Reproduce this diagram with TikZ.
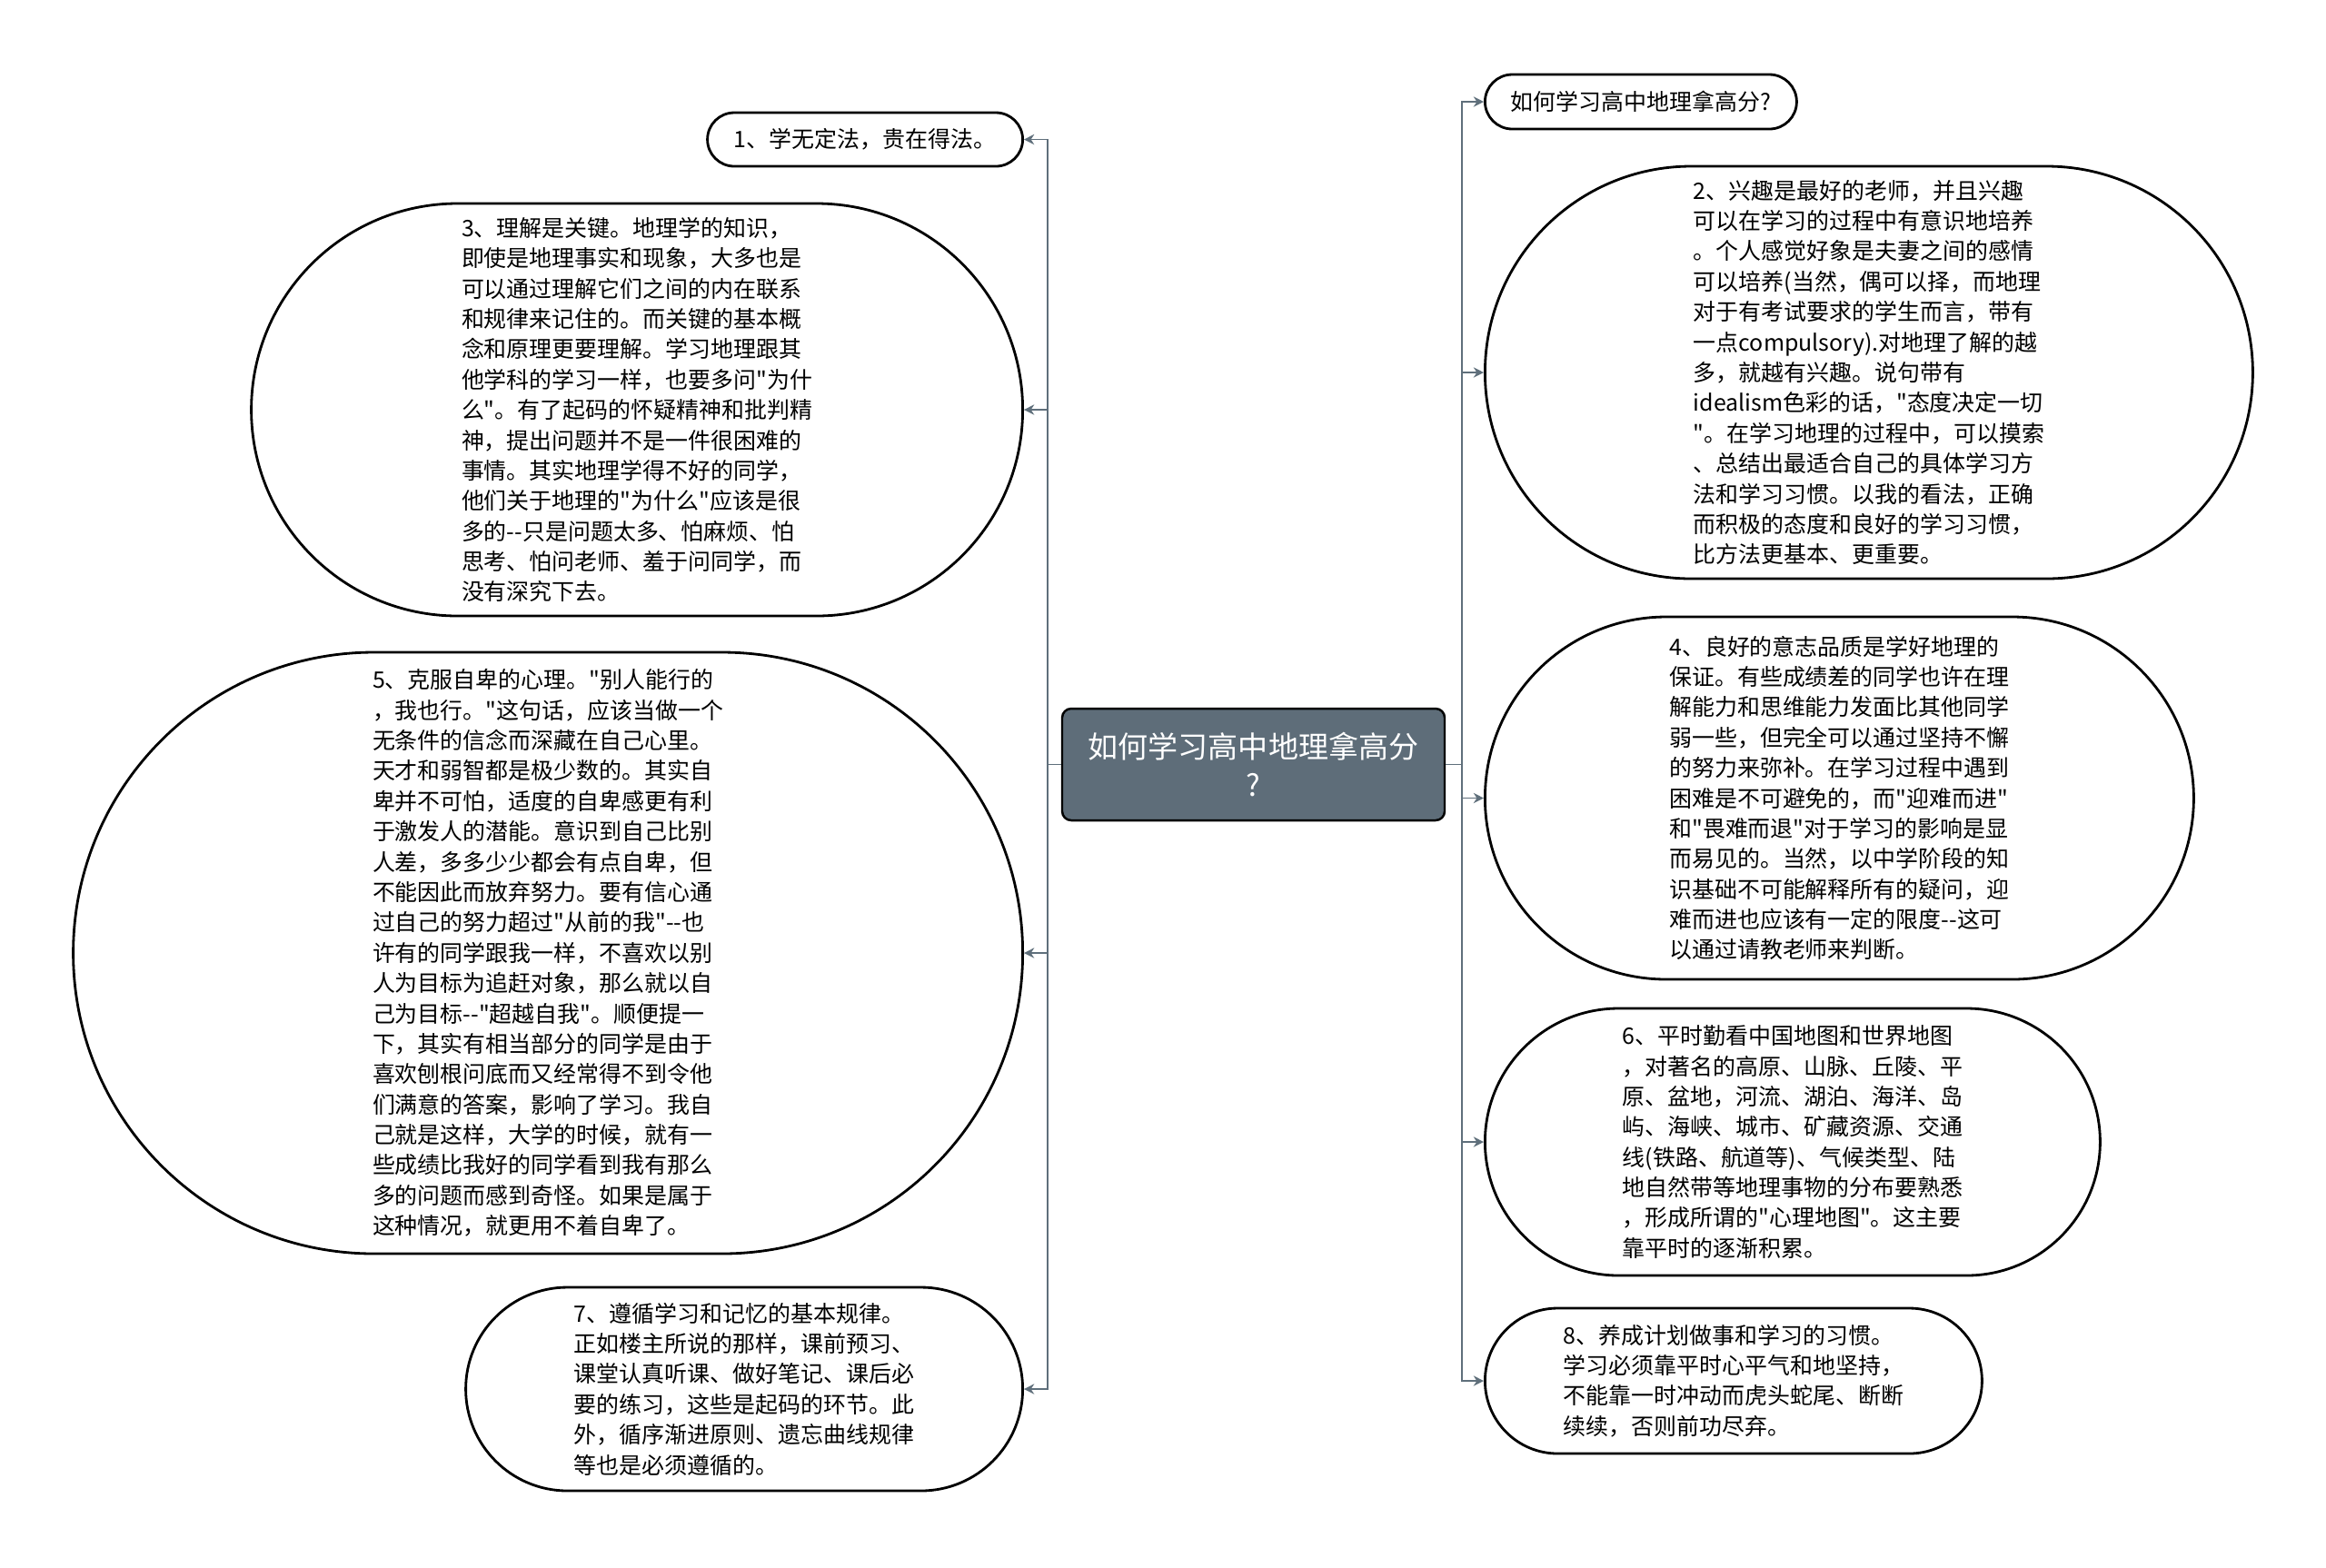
\documentclass[tikz,border=0pt]{standalone}
\usepackage{fontspec}
\newfontfamily\cjk{Noto Sans CJK SC}
\usetikzlibrary{arrows.meta}
\definecolor{linkgray}{HTML}{5F6F7B}
\definecolor{hubfill}{HTML}{5E6D79}

\begin{document}
\begin{tikzpicture}[
  topic/.style={draw=black, line width=0.8pt, fill=white, align=left, inner sep=0pt,
    font=\cjk\fontsize{7.1}{9.5}\selectfont},
  hub/.style={draw=black, line width=0.7pt, fill=hubfill, text=white, align=center,
    rounded corners=0.1cm, inner sep=0pt, font=\cjk\fontsize{9.4}{12}\selectfont},
  link/.style={draw=linkgray, line width=0.55pt, -{Stealth[length=3.2pt,width=3.2pt]}}
]
\useasboundingbox (0,0) rectangle (25.6,-17.25);

\node[hub, minimum width=4.21cm, minimum height=1.23cm] (hub) at (13.795,-8.415)
  {如何学习高中地理拿高分\\?};

\node[topic, anchor=east, minimum width=3.47cm, minimum height=0.59cm, rounded corners=0.295cm]
  (tip1) at (11.27,-1.535) {1、学无定法，贵在得法。};
\node[topic, anchor=east, minimum width=8.49cm, minimum height=4.54cm, rounded corners=2.27cm]
  (tip3) at (11.27,-4.51) {3、理解是关键。地理学的知识，\\即使是地理事实和现象，大多也是\\可以通过理解它们之间的内在联系\\和规律来记住的。而关键的基本概\\念和原理更要理解。学习地理跟其\\他学科的学习一样，也要多问"为什\\么"。有了起码的怀疑精神和批判精\\神，提出问题并不是一件很困难的\\事情。其实地理学得不好的同学，\\他们关于地理的"为什么"应该是很\\多的--只是问题太多、怕麻烦、怕\\思考、怕问老师、羞于问同学，而\\没有深究下去。};
\node[topic, anchor=east, minimum width=10.45cm, minimum height=6.62cm, rounded corners=3.31cm]
  (tip5) at (11.27,-10.49) {5、克服自卑的心理。"别人能行的\\，我也行。"这句话，应该当做一个\\无条件的信念而深藏在自己心里。\\天才和弱智都是极少数的。其实自\\卑并不可怕，适度的自卑感更有利\\于激发人的潜能。意识到自己比别\\人差，多多少少都会有点自卑，但\\不能因此而放弃努力。要有信心通\\过自己的努力超过"从前的我"--也\\许有的同学跟我一样，不喜欢以别\\人为目标为追赶对象，那么就以自\\己为目标--"超越自我"。顺便提一\\下，其实有相当部分的同学是由于\\喜欢刨根问底而又经常得不到令他\\们满意的答案，影响了学习。我自\\己就是这样，大学的时候，就有一\\些成绩比我好的同学看到我有那么\\多的问题而感到奇怪。如果是属于\\这种情况，就更用不着自卑了。};
\node[topic, anchor=east, minimum width=6.13cm, minimum height=2.24cm, rounded corners=1.12cm]
  (tip7) at (11.27,-15.29) {7、遵循学习和记忆的基本规律。\\正如楼主所说的那样，课前预习、\\课堂认真听课、做好笔记、课后必\\要的练习，这些是起码的环节。此\\外，循序渐进原则、遗忘曲线规律\\等也是必须遵循的。};

\node[topic, anchor=west, minimum width=3.43cm, minimum height=0.60cm, rounded corners=0.30cm]
  (title) at (16.33,-1.12) {如何学习高中地理拿高分?};
\node[topic, anchor=west, minimum width=8.45cm, minimum height=4.54cm, rounded corners=2.27cm]
  (tip2) at (16.33,-4.10) {2、兴趣是最好的老师，并且兴趣\\可以在学习的过程中有意识地培养\\。个人感觉好象是夫妻之间的感情\\可以培养(当然，偶可以择，而地理\\对于有考试要求的学生而言，带有\\一点compulsory).对地理了解的越\\多，就越有兴趣。说句带有\\idealism色彩的话，"态度决定一切\\"。在学习地理的过程中，可以摸索\\、总结出最适合自己的具体学习方\\法和学习习惯。以我的看法，正确\\而积极的态度和良好的学习习惯，\\比方法更基本、更重要。};
\node[topic, anchor=west, minimum width=7.80cm, minimum height=3.99cm, rounded corners=1.995cm]
  (tip4) at (16.33,-8.785) {4、良好的意志品质是学好地理的\\保证。有些成绩差的同学也许在理\\解能力和思维能力发面比其他同学\\弱一些，但完全可以通过坚持不懈\\的努力来弥补。在学习过程中遇到\\困难是不可避免的，而"迎难而进"\\和"畏难而退"对于学习的影响是显\\而易见的。当然，以中学阶段的知\\识基础不可能解释所有的疑问，迎\\难而进也应该有一定的限度--这可\\以通过请教老师来判断。};
\node[topic, anchor=west, minimum width=6.77cm, minimum height=2.94cm, rounded corners=1.47cm]
  (tip6) at (16.33,-12.57) {6、平时勤看中国地图和世界地图\\，对著名的高原、山脉、丘陵、平\\原、盆地，河流、湖泊、海洋、岛\\屿、海峡、城市、矿藏资源、交通\\线(铁路、航道等)、气候类型、陆\\地自然带等地理事物的分布要熟悉\\，形成所谓的"心理地图"。这主要\\靠平时的逐渐积累。};
\node[topic, anchor=west, minimum width=5.47cm, minimum height=1.60cm, rounded corners=0.80cm]
  (tip8) at (16.33,-15.20) {8、养成计划做事和学习的习惯。\\学习必须靠平时心平气和地坚持，\\不能靠一时冲动而虎头蛇尾、断断\\续续，否则前功尽弃。};

\foreach \t in {tip1,tip3,tip5,tip7}
  \draw[link] (hub.west) -- ++(-0.15,0) |- (\t.east);
\foreach \t in {title,tip2,tip4,tip6,tip8}
  \draw[link] (hub.east) -- ++(0.18,0) |- (\t.west);
\end{tikzpicture}
\end{document}
